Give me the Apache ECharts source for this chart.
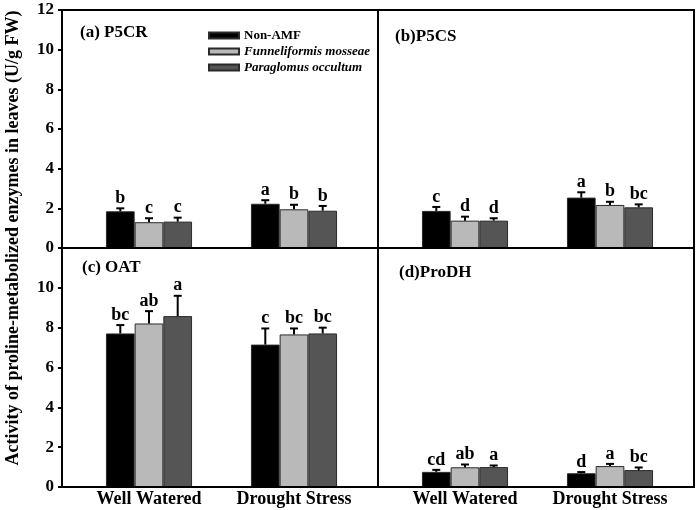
<!DOCTYPE html>
<html>
<head>
<meta charset="utf-8">
<script src="https://cdn.jsdelivr.net/npm/echarts@6/dist/echarts.min.js"></script>
<style>html,body{margin:0;padding:0;background:#fff}#c{width:700px;height:510px}</style>
</head>
<body>
<div id="c"></div>
<script>
// ---- data ----
var categories = ['Well Watered', 'Drought Stress'];
var seriesNames = ['Non-AMF', 'Funneliformis mosseae', 'Paraglomus occultum'];
var panelTitles = ['(a) P5CR', '(b)P5CS', '(c) OAT', '(d)ProDH'];
var yTicks = [0, 2, 4, 6, 8, 10, 12];
var yAxisTitle = 'Activity of proline-metabolized enzymes in leaves (U/g FW)';

// means per series [Well Watered, Drought Stress]
var p5crMean = [[1.85, 2.23], [1.30, 1.95], [1.33, 1.88]];
var p5crErr = [[0.15, 0.18], [0.20, 0.23], [0.20, 0.24]];
var p5crLetters = [['b', 'a'], ['c', 'b'], ['c', 'b']];

var p5csMean = [[1.87, 2.54], [1.38, 2.17], [1.38, 2.05]];
var p5csErr = [[0.20, 0.27], [0.20, 0.16], [0.12, 0.15]];
var p5csLetters = [['c', 'a'], ['d', 'b'], ['d', 'bc']];

var oatMean = [[7.71, 7.15], [8.21, 7.66], [8.58, 7.71]];
var oatErr = [[0.42, 0.81], [0.62, 0.30], [1.02, 0.29]];
var oatLetters = [['bc', 'c'], ['ab', 'bc'], ['a', 'bc']];

var prodhMean = [[0.76, 0.69], [0.99, 1.05], [1.00, 0.85]];
var prodhErr = [[0.10, 0.06], [0.14, 0.11], [0.08, 0.13]];
var prodhLetters = [['cd', 'd'], ['ab', 'a'], ['a', 'bc']];

// ---- styling / layout ----
var colors = ['#000000', '#b9b9b9', '#555555'];
var FONT = '"Liberation Serif", "Times New Roman", serif';
var BAR_W = 28.7;
var panels = [
  {mean: p5crMean, err: p5crErr, letters: p5crLetters},
  {mean: p5csMean, err: p5csErr, letters: p5csLetters},
  {mean: oatMean, err: oatErr, letters: oatLetters},
  {mean: prodhMean, err: prodhErr, letters: prodhLetters}
];
var frameRects = [
  {left: 62, top: 10, width: 316, height: 238},
  {left: 378, top: 10, width: 316, height: 238},
  {left: 62, top: 248, width: 316, height: 239},
  {left: 378, top: 248, width: 316, height: 239}
];
var titlePos = [[80, 24], [395, 28], [82, 259], [399, 264]];

var grid = [], xAxis = [], yAxis = [], series = [], title = [];

panels.forEach(function (pn, p) {
  var fr = frameRects[p];
  grid.push({left: fr.left + 14.5, top: fr.top, width: 290, height: fr.height, containLabel: false});
  var isLeft = (p % 2 === 0), isBottom = (p >= 2);
  xAxis.push({
    type: 'category', gridIndex: p, data: categories,
    axisLine: {show: false}, axisTick: {show: false},
    axisLabel: {show: isBottom, interval: 0, color: '#000', fontFamily: FONT, fontWeight: 'bold', fontSize: 18, margin: 3},
    splitLine: {show: false}
  });
  yAxis.push({
    type: 'value', gridIndex: p, min: 0, max: 12, interval: 2,
    show: isLeft, offset: 14.5,
    axisLine: {show: false},
    axisTick: {show: true, inside: false, length: 4, lineStyle: {color: '#000', width: 2}},
    axisLabel: {color: '#000', fontFamily: FONT, fontWeight: 'bold', fontSize: 17, margin: 8,
      showMaxLabel: !isBottom,
      formatter: function (v) { return yTicks.indexOf(v) >= 0 ? String(v) : ''; }},
    splitLine: {show: false}
  });
  title.push({
    text: panelTitles[p], left: titlePos[p][0], top: titlePos[p][1], padding: 0,
    textStyle: {color: '#000', fontFamily: FONT, fontWeight: 'bold', fontSize: 17}
  });
  seriesNames.forEach(function (name, s) {
    series.push({
      type: 'bar', name: name, xAxisIndex: p, yAxisIndex: p,
      data: pn.mean[s], barWidth: BAR_W, barGap: '0%',
      itemStyle: {color: colors[s], borderColor: '#2a2a2a', borderWidth: 1},
      emphasis: {disabled: true}, z: 2
    });
  });
  seriesNames.forEach(function (name, s) {
    var d = pn.mean[s].map(function (m, i) { return [i, m, pn.err[s][i]]; });
    series.push({
      type: 'custom', xAxisIndex: p, yAxisIndex: p, z: 3, silent: true,
      data: d,
      renderItem: function (params, api) {
        var xi = api.value(0), m = api.value(1), e = api.value(2);
        var c = api.coord([xi, m]);
        var t = api.coord([xi, m + e]);
        var cx = c[0] + (s - 1) * BAR_W;
        var letter = pn.letters[s][params.dataIndex];
        return {
          type: 'group',
          children: [
            {type: 'line', shape: {x1: cx, y1: c[1], x2: cx, y2: t[1]}, style: {stroke: '#000', lineWidth: 2}},
            {type: 'line', shape: {x1: cx - 4, y1: t[1], x2: cx + 4, y2: t[1]}, style: {stroke: '#000', lineWidth: 2}},
            {type: 'text', x: cx, y: t[1] - 1,
              style: {text: letter, align: 'center', verticalAlign: 'bottom',
                font: 'bold 18px ' + FONT, fill: '#000'}}
          ]
        };
      }
    });
  });
});

// frame grids (borders of each panel)
frameRects.forEach(function (fr, k) {
  var gi = grid.length;
  grid.push({left: fr.left, top: fr.top, width: fr.width, height: fr.height,
    show: true, borderColor: '#000', borderWidth: 2, backgroundColor: 'transparent', z: 10});
  xAxis.push({type: 'value', gridIndex: gi, show: false, min: 0, max: 1});
  yAxis.push({type: 'value', gridIndex: gi, show: false, min: 0, max: 1});
});

var chart = echarts.init(document.getElementById('c'), null, {renderer: 'canvas'});
chart.setOption({
  backgroundColor: '#fff',
  animation: false,
  title: title,
  grid: grid,
  xAxis: xAxis,
  yAxis: yAxis,
  legend: {
    orient: 'vertical', left: 203, top: 24, itemWidth: 30, itemHeight: 6, itemGap: 3,
    icon: 'rect', selectedMode: false,
    textStyle: {color: '#000', fontFamily: FONT, fontWeight: 'bold', fontSize: 13, lineHeight: 13},
    data: [
      {name: seriesNames[0]},
      {name: seriesNames[1], textStyle: {fontStyle: 'italic'}},
      {name: seriesNames[2], textStyle: {fontStyle: 'italic'}}
    ]
  },
  graphic: [{
    type: 'text', x: 13, y: 238, rotation: Math.PI / 2,
    style: {text: yAxisTitle, align: 'center', verticalAlign: 'middle',
      font: 'bold 18px ' + FONT, fill: '#000'}
  }],
  series: series
});
</script>
</body>
</html>
